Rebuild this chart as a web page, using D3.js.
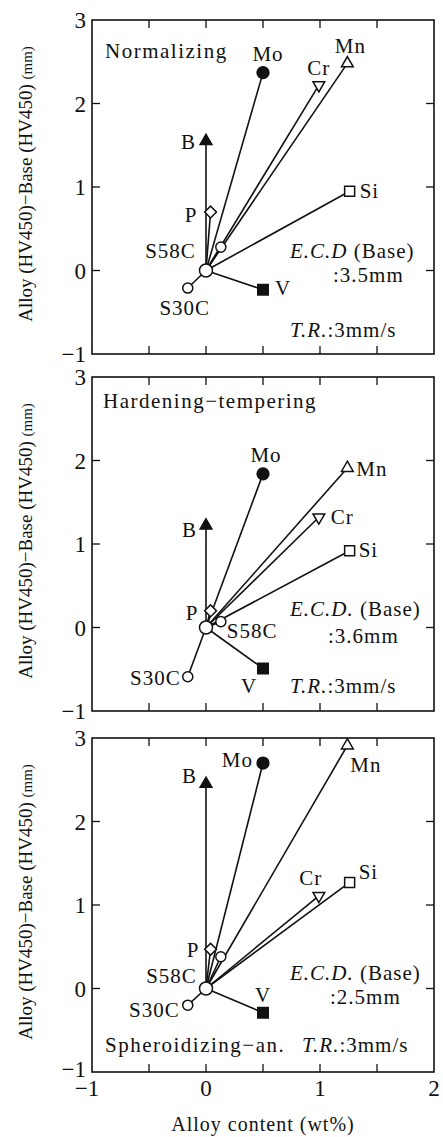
<!DOCTYPE html>
<html>
<head>
<meta charset="utf-8">
<script src="https://cdn.jsdelivr.net/npm/d3@7"></script>
</head>
<body style="margin:0; background:#fff">
<svg id="chart"></svg>
<script>

// data
const elements = ["Mo", "Cr", "Mn", "Si", "B", "P", "S58C", "S30C", "V"];
const alloyContent = [0.5, 0.99, 1.24, 1.26, 0, 0.04, 0.13, -0.16, 0.5];
const normalizing = [2.37, 2.22, 2.48, 0.95, 1.55, 0.70, 0.28, -0.21, -0.23];
const hardeningTempering = [1.84, 1.32, 1.91, 0.92, 1.22, 0.20, 0.07, -0.59, -0.49];
const spheroidizing = [2.70, 1.11, 2.91, 1.27, 2.45, 0.47, 0.38, -0.20, -0.29];

const panelNames = ["Normalizing", "Hardening\u2212tempering", "Spheroidizing\u2212an."];
const ecdBase = ["3.5", "3.6", "2.5"];
const xTickLabels = [-1, 0, 1, 2];
const yTickLabels = [-1, 0, 1, 2, 3];
const minorTicks = [-0.5, 0, 0.5, 1, 1.5];

const width = 443, height = 1137;
const left = 92, right = 434, panelH = 334;
const panelTops = [20, 377, 738];
const fontSize = 21;
const serif = "'Liberation Serif'";

// marker look per element: symbol, filled, size, rotation
const markerStyle = {
	Mo: [d3.symbolCircle, true, 110, 0],
	Cr: [d3.symbolTriangle, false, 60, 180],
	Mn: [d3.symbolTriangle, false, 60, 0],
	Si: [d3.symbolSquare, false, 100, 0],
	B: [d3.symbolTriangle, true, 60, 0],
	P: [d3.symbolSquare, false, 70, 45],
	S58C: [d3.symbolCircle, false, 80, 0],
	S30C: [d3.symbolCircle, false, 80, 0],
	V: [d3.symbolSquare, true, 110, 0]
};

// label placement (dx, dy, anchor) relative to the marker, one list per panel
const labelPlacement = [
	[[5, -12, "middle"], [0, -10, "middle"], [3, -10, "middle"], [10, 7, "start"], [-10, 8, "end"],
		[-13, 10, "end"], [-25, 11, "end"], [-3, 27, "middle"], [12, 5, "start"]],
	[[3, -12, "middle"], [12, 7, "start"], [9, 8, "start"], [9, 6, "start"], [-9, 11, "end"],
		[-12, 9, "end"], [6, 16, "start"], [-7, 8, "end"], [-14, 25, "middle"]],
	[[-10, 4, "end"], [-8, -11, "middle"], [3, 26, "start"], [9, -3, "start"], [-9, -1, "end"],
		[-11, 8, "end"], [-24, 26, "end"], [-8, 12, "end"], [0, -11, "middle"]]
];

// annotation positions relative to panel top
const notePos = [
	{title: [105, 38], ecd: [290, 238], base: [333, 262], tr: [290, 317]},
	{title: [103, 31], ecd: [290, 239], base: [328, 266], tr: [290, 316]},
	{title: [105, 314], ecd: [290, 242], base: [330, 266], tr: [302, 314]}
];

const svg = d3.select("#chart").attr("width", width).attr("height", height);
svg.append("rect").attr("width", width).attr("height", height).attr("fill", "#fff");

const x = d3.scaleLinear().domain([-1, 2]).range([left, right]);

function addText(g, px, py, size, spacing) {
	let t = g.append("text")
		.attr("x", px).attr("y", py)
		.style("font-family", serif)
		.attr("font-size", size)
		.attr("fill", "#111");
	if (spacing > 0) {
		t.attr("letter-spacing", spacing);
	}
	return t;
}

function drawPanel(g, values, i) {
	const top = panelTops[i];
	const y = d3.scaleLinear().domain([-1, 3]).range([top + panelH, top]);
	const x0 = x(0), y0 = y(0);

	// frame and inward ticks
	g.append("rect")
		.attr("x", left).attr("y", top)
		.attr("width", right - left).attr("height", panelH)
		.attr("fill", "none").attr("stroke", "#111").attr("stroke-width", 1.6);

	minorTicks.forEach(function (t) {
		g.append("line").attr("x1", x(t)).attr("x2", x(t)).attr("y1", top + panelH).attr("y2", top + panelH - 8)
			.attr("stroke", "#111").attr("stroke-width", 1.3);
		g.append("line").attr("x1", x(t)).attr("x2", x(t)).attr("y1", top).attr("y2", top + 8)
			.attr("stroke", "#111").attr("stroke-width", 1.3);
	});
	[0, 1, 2].forEach(function (t) {
		g.append("line").attr("x1", left).attr("x2", left + 8).attr("y1", y(t)).attr("y2", y(t))
			.attr("stroke", "#111").attr("stroke-width", 1.3);
		g.append("line").attr("x1", right).attr("x2", right - 8).attr("y1", y(t)).attr("y2", y(t))
			.attr("stroke", "#111").attr("stroke-width", 1.3);
	});

	yTickLabels.forEach(function (t) {
		addText(g, left - 6, y(t) - (i === 2 && t < 0 ? 3 : 0), 23, 0)
			.attr("dy", "0.36em")
			.attr("text-anchor", "end")
			.text(t < 0 ? "\u2212" + Math.abs(t) : t);
	});

	// y axis title
	const title = addText(g, 0, 0, 19, 0)
		.attr("transform", "translate(32," + (top + panelH / 2 - 3) + ") rotate(-90)")
		.attr("text-anchor", "middle");
	title.append("tspan").text("Alloy (HV450)\u2212Base (HV450) ");
	title.append("tspan").attr("font-size", 15).text("(mm)");

	// spokes from the base steel
	elements.forEach(function (el, k) {
		g.append("line")
			.attr("x1", x0).attr("y1", y0)
			.attr("x2", x(alloyContent[k])).attr("y2", y(values[k]))
			.attr("stroke", "#111").attr("stroke-width", 1.6);
	});

	elements.forEach(function (el, k) {
		const s = markerStyle[el];
		g.append("path")
			.attr("d", d3.symbol().type(s[0]).size(s[2])())
			.attr("transform", "translate(" + x(alloyContent[k]) + "," + y(values[k]) + ") rotate(" + s[3] + ")")
			.attr("fill", s[1] ? "#111" : "#fff")
			.attr("stroke", "#111").attr("stroke-width", 1.5);

		const p = labelPlacement[i][k];
		addText(g, x(alloyContent[k]) + p[0], y(values[k]) + p[1], fontSize, 1)
			.attr("text-anchor", p[2])
			.text(el);
	});

	g.append("circle").attr("cx", x0).attr("cy", y0).attr("r", 6.5)
		.attr("fill", "#fff").attr("stroke", "#111").attr("stroke-width", 1.5);

	// annotations
	const n = notePos[i];
	addText(g, n.title[0], top + n.title[1], fontSize, 1.5).text(panelNames[i]);

	const ecd = addText(g, n.ecd[0], top + n.ecd[1], fontSize, 1);
	ecd.append("tspan").attr("font-style", "italic").text(i === 0 ? "E.C.D" : "E.C.D.");
	ecd.append("tspan").text(" (Base)");

	addText(g, n.base[0], top + n.base[1], fontSize, 1).text(":" + ecdBase[i] + "mm");

	const tr = addText(g, n.tr[0], top + n.tr[1], fontSize, 1);
	tr.append("tspan").attr("font-style", "italic").text("T.R.");
	tr.append("tspan").text(":3mm/s");
}

[normalizing, hardeningTempering, spheroidizing].forEach(function (values, i) {
	drawPanel(svg.append("g").attr("class", "panel"), values, i);
});

// x axis labels under the last panel
const bottom = panelTops[2] + panelH;
xTickLabels.forEach(function (t) {
	addText(svg, x(t) - (t < 0 ? 5 : 0), bottom + 24, 23, 0)
		.attr("text-anchor", "middle")
		.text(t < 0 ? "\u2212" + Math.abs(t) : t);
});

addText(svg, 263, bottom + 59, 20, 1)
	.attr("text-anchor", "middle")
	.text("Alloy content (wt%)");

</script>
</body>
</html>
